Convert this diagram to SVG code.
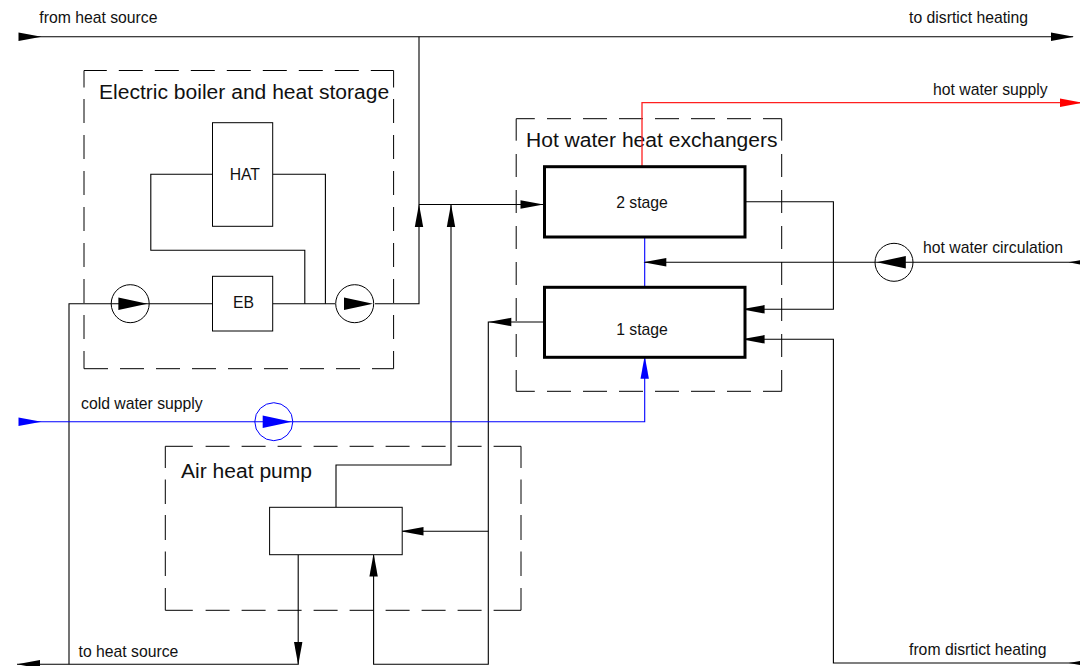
<svg xmlns="http://www.w3.org/2000/svg" xmlns:xlink="http://www.w3.org/1999/xlink" width="1080" height="666" viewBox="0 0 1080 666">
<style>
text{font-family:"Liberation Sans",Arial,sans-serif;fill:#111}
.s{font-size:15.75px}
.l{font-size:21.05px}
.c{text-anchor:middle}
.w{fill:#fff;stroke:#000;stroke-width:1}
.t{fill:#fff;stroke:#000;stroke-width:3}
.ln{fill:none;stroke:#000;stroke-width:1.1}
.d{fill:none;stroke:#000;stroke-width:1}
.b{fill:none;stroke:#0000ff;stroke-width:1.1}
.r{fill:none;stroke:#ff2020;stroke-width:1.3}
.p{fill:none;stroke:#000;stroke-width:1}
</style>
<defs>
<path id="ah" d="M0 0L-23 -4.2V4.2Z"/>
<path id="ap" d="M0 0L-29 -6.2V6.2Z"/>
</defs>

<g id="box-electric-boiler">
<path class="d" d="M84 87.5V70.5H106.8M118.8 70.5H142.8M154.8 70.5H178.8M190.8 70.5H214.8M226.8 70.5H250.8M262.8 70.5H286.8M298.8 70.5H322.8M334.8 70.5H358.8M370.8 70.5H393.6V87.5M393.6 99V123M393.6 135V159M393.6 171V195M393.6 207V231M393.6 243V267M393.6 279V303M393.6 315V339M393.6 351V368.7H372M360 368.7H336M324 368.7H300M288 368.7H264M252 368.7H228M216 368.7H192M180 368.7H156M144 368.7H120M108 368.7H84V351M84 339V315M84 303V279M84 267V243M84 231V207M84 195V171M84 159V135M84 123V99"/>
<text class="l" x="99" y="99">Electric boiler and heat storage</text>
</g>
<g id="box-heat-exchangers">
<path class="d" d="M516.2 140.7V118.7H534.8M547 118.7H571M583 118.7H607M619 118.7H643M655 118.7H679M691 118.7H715M727 118.7H751M763 118.7H781.7V140.7M781.7 154V177M781.7 190V213M781.7 226V249M781.7 262V285M781.7 298V321M781.7 334V357M781.7 370V391.3H763M751 391.3H727M715 391.3H691M679 391.3H655M643 391.3H619M607 391.3H583M571 391.3H547M534.8 391.3H516.2V370M516.2 357V334M516.2 321V298M516.2 285V262M516.2 249V226M516.2 213V190M516.2 177V154"/>
<text class="l" x="526" y="147">Hot water heat exchangers</text>
</g>
<g id="box-air-heat-pump">
<path class="d" d="M165.3 468V446.3H192.8M205.6 446.3H229.6M241.6 446.3H265.6M277.6 446.3H301.6M313.6 446.3H337.6M349.6 446.3H373.6M385.6 446.3H409.6M421.6 446.3H445.6M457.6 446.3H481.6M493.6 446.3H521V468M521 479.5V504M521 515V540M521 551.5V576M521 588V610.3H493.6M481.6 610.3H457.6M445.6 610.3H421.6M409.6 610.3H385.6M373.6 610.3H349.6M337.6 610.3H313.6M301.6 610.3H277.6M265.6 610.3H241.6M229.6 610.3H205.6M192.8 610.3H165.3V588M165.3 576V551.5M165.3 540V515M165.3 504V479.5"/>
<text class="l" x="181" y="478">Air heat pump</text>
</g>

<g id="connectors">
<path class="ln" d="M19 36.8H1073"/>
<path class="ln" d="M419 36.8V303.7H375"/>
<path class="ln" d="M419 204.5H544"/>
<path class="ln" d="M335 303.7H272.7"/>
<path class="ln" d="M212.5 303.7H69V664.3"/>
<path class="ln" d="M212.5 174.3H150.8V250.3H304.8V303.7"/>
<path class="ln" d="M272.7 174.3H325.4V303.7"/>
<path class="ln" d="M451 204.5V465H336V507.3"/>
<path class="ln" d="M544 322H488.3V664.3H373.6V554.7"/>
<path class="ln" d="M488.3 531.3H402"/>
<path class="ln" d="M298.2 554.7V664.3H17"/>
<path class="ln" d="M745 201.7H833.4V309.3H745"/>
<path class="ln" d="M1080 262.3H644.7"/>
<path class="ln" d="M745 339.3H833.4V663H1080"/>
<path class="b" d="M19 421.7H644.7V357"/>
<path class="b" d="M644.7 237V287"/>
<path class="r" d="M642 166V102.7H1080"/>
<use xlink:href="#ah" transform="translate(41.5 36.8)"/>
<use xlink:href="#ah" transform="translate(1074 36.8)"/>
<use xlink:href="#ah" transform="translate(419 204) rotate(-90)"/>
<use xlink:href="#ah" transform="translate(451 204) rotate(-90)"/>
<use xlink:href="#ah" transform="translate(543.5 204.5)"/>
<use xlink:href="#ah" transform="translate(488.3 322) rotate(180)"/>
<use xlink:href="#ah" transform="translate(400.5 531.3) rotate(180)"/>
<use xlink:href="#ah" transform="translate(373.6 553.5) rotate(-90)"/>
<use xlink:href="#ah" transform="translate(298.2 665) rotate(90)"/>
<use xlink:href="#ah" transform="translate(17 664.3) rotate(180)"/>
<use xlink:href="#ah" transform="translate(643.3 262.3) rotate(180)"/>
<use xlink:href="#ah" transform="translate(1068.6 262.3) rotate(180)"/>
<use xlink:href="#ah" transform="translate(741.6 309.3) rotate(180)"/>
<use xlink:href="#ah" transform="translate(741.6 339.3) rotate(180)"/>
<use xlink:href="#ah" transform="translate(1068.6 663) rotate(180)"/>
<use xlink:href="#ah" transform="translate(41.5 421.7)" fill="#0000ff"/>
<use xlink:href="#ah" transform="translate(644.7 355.7) rotate(-90)" fill="#0000ff"/>
<use xlink:href="#ah" transform="translate(1083 102.7)" fill="#ff0000"/>
</g>

<g id="node-hat"><rect class="w" x="212.5" y="122.7" width="60.2" height="103.6"/><text class="s c" x="244.8" y="179.5">HAT</text></g>
<g id="node-eb"><rect class="w" x="212.5" y="276.3" width="60.2" height="54.7"/><text class="s c" x="243.5" y="307.5">EB</text></g>
<g id="node-stage-2"><rect class="t" x="544.5" y="166.7" width="200.5" height="70.3"/><text class="s c" x="642" y="207.5">2 stage</text></g>
<g id="node-stage-1"><rect class="t" x="544.5" y="287.3" width="200.5" height="70"/><text class="s c" x="642" y="334.5">1 stage</text></g>
<g id="node-heat-pump"><rect class="w" x="269.6" y="507.3" width="132.6" height="47.4"/></g>

<g id="pump-1"><circle class="p" cx="130.2" cy="303.7" r="19"/><use xlink:href="#ap" transform="translate(147.4 303.7)"/></g>
<g id="pump-2"><circle class="p" cx="354.7" cy="303.7" r="19"/><use xlink:href="#ap" transform="translate(373 303.7)"/></g>
<g id="pump-3"><circle class="p" cx="894" cy="262.3" r="19"/><use xlink:href="#ap" transform="translate(876.8 262.3) rotate(180)"/></g>
<g id="pump-cold"><polygon fill="none" stroke="#0000ff" stroke-width="1" points="292.8,421.7 291.4,429 287.2,435.1 281.1,439.2 273.8,440.7 266.5,439.2 260.4,435.1 256.2,429 254.8,421.7 256.2,414.4 260.4,408.3 266.5,404.2 273.8,402.7 281.1,404.2 287.2,408.3 291.4,414.4"/><use xlink:href="#ap" transform="translate(291.7 421.7)" fill="#0000ff"/></g>

<g id="labels">
<text class="s" x="39.3" y="23">from heat source</text>
<text class="s" x="909" y="23">to disrtict heating</text>
<text class="s" x="933" y="95">hot water supply</text>
<text class="s" x="923" y="253">hot water circulation</text>
<text class="s" x="81" y="409">cold water supply</text>
<text class="s" x="78.5" y="657">to heat source</text>
<text class="s" x="909" y="655">from disrtict heating</text>
</g>
</svg>
